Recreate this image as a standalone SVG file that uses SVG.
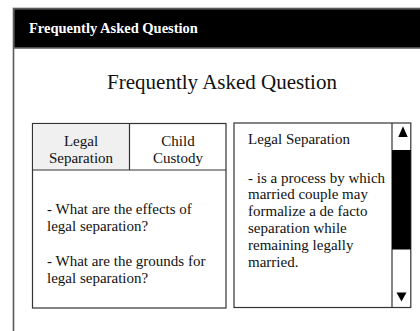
<svg xmlns="http://www.w3.org/2000/svg" width="420" height="331" viewBox="0 0 420 331" font-family="'Liberation Serif', 'DejaVu Serif', serif">
<style>
text{fill:#111}
.box{fill:#fff;stroke:#333;stroke-width:1.2}
.t15{font-size:15px}
.mid{text-anchor:middle}
</style>
<rect x="0" y="0" width="420" height="331" fill="#fff"/>
<g id="window">
<rect x="13.5" y="8.5" width="420" height="340" fill="#fff" stroke="#5a5a5a" stroke-width="1.6"/>
<rect x="14.3" y="9.3" width="410" height="38.5" fill="#000"/>
<line x1="13.5" y1="48" x2="420" y2="48" stroke="#5a5a5a" stroke-width="1.4"/>
<text x="29" y="33" font-size="14.5" font-weight="bold" style="fill:#fff">Frequently Asked Question</text>
<text x="222" y="89" font-size="21" class="mid">Frequently Asked Question</text>
</g>
<g id="tabs-panel">
<rect class="box" x="32.5" y="123.5" width="193.5" height="184.5"/>
<rect x="33.1" y="124.1" width="96.2" height="45.6" fill="#f0f0f0"/>
<line x1="129.5" y1="123.5" x2="129.5" y2="170" stroke="#333" stroke-width="1.2"/>
<line x1="32.5" y1="170" x2="226" y2="170" stroke="#333" stroke-width="1.2"/>
<text class="t15 mid" x="81" y="146">Legal</text>
<text class="t15 mid" x="81" y="163">Separation</text>
<text class="t15 mid" x="178" y="146">Child</text>
<text class="t15 mid" x="178" y="163">Custody</text>
<text class="t15" x="47" y="213.5">- What are the effects of</text>
<text class="t15" x="47" y="230.5">legal separation?</text>
<text class="t15" x="47" y="266">- What are the grounds for</text>
<text class="t15" x="47" y="283">legal separation?</text>
</g>
<g id="answer-panel">
<rect class="box" x="234" y="123" width="176.8" height="184.5"/>
<line x1="392" y1="123" x2="392" y2="307.5" stroke="#333" stroke-width="1.2"/>
<rect x="392" y="150" width="18.8" height="99.5" fill="#000"/>
<polygon points="398.3,137 407.7,137 403,126.3" fill="#000"/>
<polygon points="396.5,292.5 406.5,292.5 401.5,301.5" fill="#000"/>
<text class="t15" x="248" y="143.5">Legal Separation</text>
<text class="t15" x="248" y="182.5">- is a process by which</text>
<text class="t15" x="248" y="199.3">married couple may</text>
<text class="t15" x="248" y="216">formalize a de facto</text>
<text class="t15" x="248" y="233">separation while</text>
<text class="t15" x="248" y="250">remaining legally</text>
<text class="t15" x="248" y="266.7">married.</text>
</g>
</svg>
